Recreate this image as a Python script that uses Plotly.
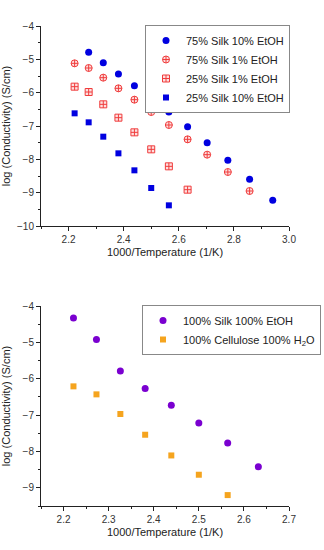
import plotly.graph_objects as go

# ---- data ----
x_a = [2.273, 2.326, 2.381, 2.439, 2.500, 2.564, 2.632, 2.703, 2.778, 2.857, 2.941]
y_silk75_etoh10 = [-4.79, -5.10, -5.44, -5.79, -6.17, -6.58, -7.02, -7.50, -8.03, -8.60, -9.23]

x_b = [2.222, 2.273, 2.326, 2.381, 2.439, 2.500, 2.564, 2.632, 2.703, 2.778, 2.857]
y_silk75_etoh1 = [-5.12, -5.26, -5.55, -5.87, -6.21, -6.58, -6.97, -7.40, -7.86, -8.38, -8.95]

x_c = [2.222, 2.273, 2.326, 2.381, 2.439, 2.500, 2.564, 2.632]
y_silk25_etoh1 = [-5.82, -5.98, -6.35, -6.75, -7.19, -7.70, -8.21, -8.91]

x_d = [2.222, 2.273, 2.326, 2.381, 2.439, 2.500, 2.564]
y_silk25_etoh10 = [-6.62, -6.89, -7.32, -7.82, -8.33, -8.86, -9.38]

x_e = [2.222, 2.273, 2.326, 2.381, 2.439, 2.500, 2.564, 2.632]
y_silk100_etoh100 = [-4.33, -4.92, -5.79, -6.27, -6.73, -7.22, -7.77, -8.42]

x_f = [2.222, 2.273, 2.326, 2.381, 2.439, 2.500, 2.564]
y_cell100_h2o = [-6.21, -6.43, -6.97, -7.54, -8.11, -8.64, -9.20]

names_top = ["75% Silk 10% EtOH", "75% Silk 1% EtOH", "25% Silk 1% EtOH", "25% Silk 10% EtOH"]
names_bot = ["100% Silk 100% EtOH", "100% Cellulose 100% H<sub>2</sub>O"]

BLUE = "#0000e0"
RED = "#f03c3c"
PINK_FILL = "#fde0e0"
PURPLE = "#7a00d0"
ORANGE = "#f5a41e"

fig = go.Figure()
fig.add_trace(go.Scatter(x=x_a, y=y_silk75_etoh10, mode="markers", name=names_top[0],
                         marker=dict(symbol="circle", size=7, color=BLUE),
                         xaxis="x", yaxis="y", legend="legend"))
fig.add_trace(go.Scatter(x=x_b, y=y_silk75_etoh1, mode="markers", name=names_top[1],
                         marker=dict(symbol="circle-cross", size=7, color=PINK_FILL,
                                     line=dict(color=RED, width=1)),
                         xaxis="x", yaxis="y", legend="legend"))
fig.add_trace(go.Scatter(x=x_c, y=y_silk25_etoh1, mode="markers", name=names_top[2],
                         marker=dict(symbol="square-cross", size=7, color=PINK_FILL,
                                     line=dict(color=RED, width=1)),
                         xaxis="x", yaxis="y", legend="legend"))
fig.add_trace(go.Scatter(x=x_d, y=y_silk25_etoh10, mode="markers", name=names_top[3],
                         marker=dict(symbol="square", size=6, color=BLUE),
                         xaxis="x", yaxis="y", legend="legend"))
fig.add_trace(go.Scatter(x=x_e, y=y_silk100_etoh100, mode="markers", name=names_bot[0],
                         marker=dict(symbol="circle", size=7, color=PURPLE),
                         xaxis="x2", yaxis="y2", legend="legend2"))
fig.add_trace(go.Scatter(x=x_f, y=y_cell100_h2o, mode="markers", name=names_bot[1],
                         marker=dict(symbol="square", size=6, color=ORANGE),
                         xaxis="x2", yaxis="y2", legend="legend2"))

H = 550.0
W = 248.0
FONT = "Liberation Sans, Arial, sans-serif"
axis_common = dict(showline=True, linecolor="#222", linewidth=1, ticks="outside",
                   ticklen=4, tickcolor="#222", showgrid=False, zeroline=False,
                   tickfont=dict(size=10, color="#333", family=FONT),
                   minor=dict(ticks="outside", ticklen=2, tickcolor="#222", showgrid=False))

fig.update_layout(
    width=324, height=550,
    margin=dict(l=41, r=35, t=0, b=0, autoexpand=False),
    paper_bgcolor="white", plot_bgcolor="white",
    font=dict(family=FONT, color="#222"),
    showlegend=True,
    xaxis=dict(axis_common, domain=[0, 1], anchor="y", range=[2.1, 3.0], dtick=0.2,
               tick0=2.2, tickformat=".1f", minor=dict(axis_common["minor"], dtick=0.1),
               title=dict(text="1000/Temperature (1/K)", font=dict(size=11, family=FONT), standoff=4)),
    yaxis=dict(axis_common, domain=[1 - 226 / H, 1 - 26 / H], anchor="x", range=[-10, -4],
               dtick=1, minor=dict(axis_common["minor"], dtick=0.5),
               title=dict(text="log (Conductivity) (S/cm)", font=dict(size=11, family=FONT), standoff=10)),
    xaxis2=dict(axis_common, domain=[0, 1], anchor="y2", range=[2.15, 2.7], dtick=0.1,
                tick0=2.2, tickformat=".1f", minor=dict(axis_common["minor"], dtick=0.05),
                title=dict(text="1000/Temperature (1/K)", font=dict(size=11, family=FONT), standoff=4)),
    yaxis2=dict(axis_common, domain=[1 - 506 / H, 1 - 306 / H], anchor="x2", range=[-9.5, -4],
                dtick=1, minor=dict(axis_common["minor"], dtick=0.5),
                title=dict(text="log (Conductivity) (S/cm)", font=dict(size=11, family=FONT), standoff=10)),
    legend=dict(x=(290 - 41) / W, xanchor="right", y=1 - 25 / H, yanchor="top",
                bordercolor="#888", borderwidth=1, bgcolor="white",
                font=dict(size=11, family=FONT, color="#222"), tracegroupgap=0,
                itemwidth=30),
    legend2=dict(x=(321 - 41) / W, xanchor="right", y=1 - 305 / H, yanchor="top",
                 bordercolor="#888", borderwidth=1, bgcolor="white",
                 font=dict(size=11, family=FONT, color="#222"), tracegroupgap=0,
                 itemwidth=30),
)

fig.write_html("out.html", config={"displayModeBar": False},
               post_script="document.body.style.margin='0';document.body.style.overflow='hidden';")
